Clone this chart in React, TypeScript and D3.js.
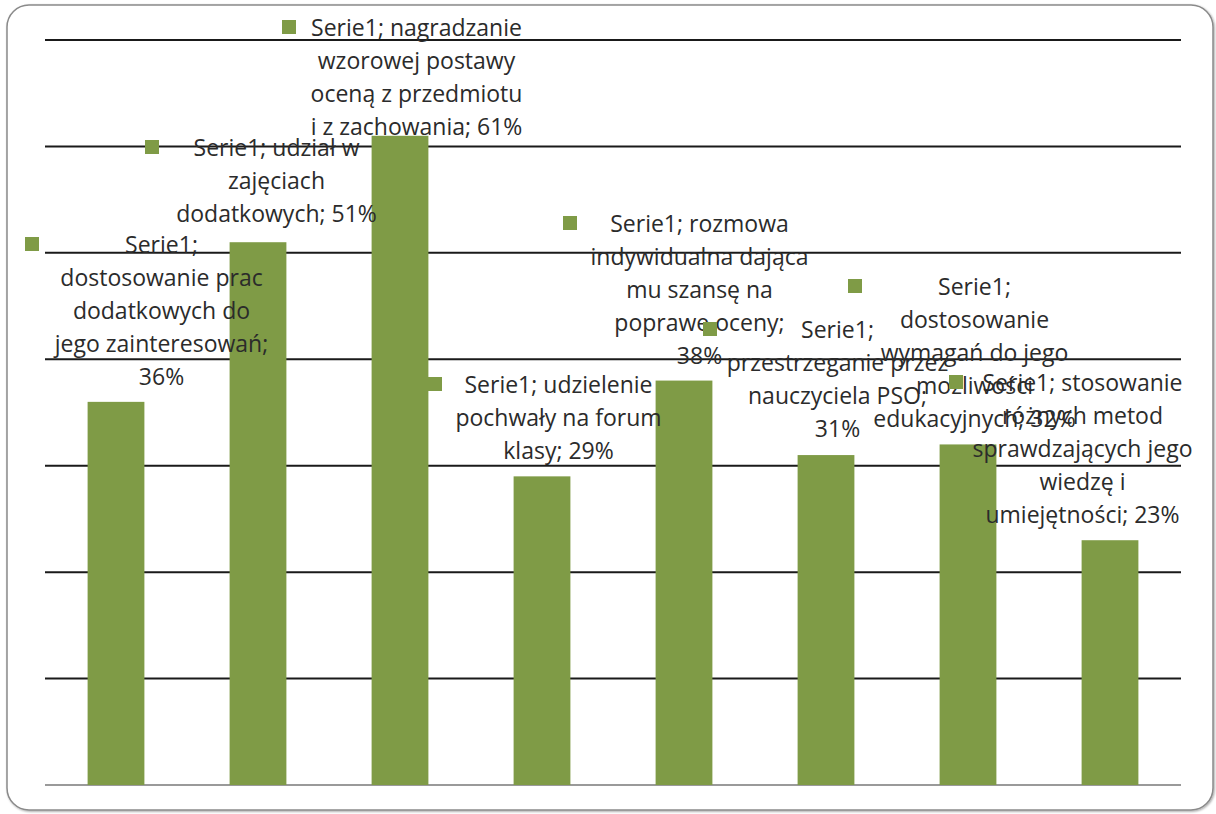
import React from "react";
import * as d3 from "d3";

const categories = [
  "dostosowanie prac dodatkowych do jego zainteresowań",
  "udział w zajęciach dodatkowych",
  "nagradzanie wzorowej postawy oceną z przedmiotu i z zachowania",
  "udzielenie pochwały na forum klasy",
  "rozmowa indywidualna dająca mu szansę na poprawe oceny",
  "przestrzeganie przez nauczyciela PSO",
  "dostosowanie wymagań do jego możliwości edukacyjnych",
  "stosowanie różnych metod sprawdzających jego wiedzę i umiejętności",
];
const values = [36, 51, 61, 29, 38, 31, 32, 23];
const seriesName = "Serie1";
const yTicks = [0, 10, 20, 30, 40, 50, 60, 70];

// wrapped label lines as they appear in the chart
const labelLines = [
  ["Serie1;", "dostosowanie prac", "dodatkowych do", "jego zainteresowań;", "36%"],
  ["Serie1; udział w", "zajęciach", "dodatkowych; 51%"],
  ["Serie1; nagradzanie", "wzorowej postawy", "oceną z przedmiotu", "i z zachowania; 61%"],
  ["Serie1; udzielenie", "pochwały na forum", "klasy; 29%"],
  ["Serie1; rozmowa", "indywidualna dająca", "mu szansę na", "poprawe oceny;", "38%"],
  ["Serie1;", "przestrzeganie przez", "nauczyciela PSO;", "31%"],
  ["Serie1;", "dostosowanie", "wymagań do jego", "możliwości", "edukacyjnych; 32%"],
  ["Serie1; stosowanie", "różnych metod", "sprawdzających jego", "wiedzę i", "umiejętności; 23%"],
];

// label layout: text center offset from bar center, first line center y, marker left offset from bar center
const labelLayout = [
  { dx: 45.5, y0: 245, mdx: -91 },
  { dx: 18.5, y0: 148, mdx: -113 },
  { dx: 16.5, y0: 28, mdx: -118 },
  { dx: 16.5, y0: 385, mdx: -114 },
  { dx: 15.5, y0: 224, mdx: -121 },
  { dx: 11.5, y0: 330, mdx: -123 },
  { dx: 6.5, y0: 287, mdx: -120 },
  { dx: -27.5, y0: 383, mdx: -161 },
];

const W = 1216;
const H = 814;
const margin = { left: 45, right: 35, top: 40, bottom: 29 };
const GREEN = "#7F9B46";
const LINE_H = 33;
const FONT = "'Open Sans', 'DejaVu Sans', sans-serif";

export default function App() {
  const x = d3
    .scaleBand<number>()
    .domain(d3.range(categories.length))
    .range([margin.left, W - margin.right])
    .paddingInner(0.6)
    .paddingOuter(0.3);
  const y = d3
    .scaleLinear()
    .domain([0, 70])
    .range([H - margin.bottom, margin.top]);

  return (
    <svg
      width={W}
      height={H}
      style={{ position: "absolute", left: 0, top: 0, background: "#fff" }}
    >
      <defs>
        <filter id="sh" x="-5%" y="-5%" width="110%" height="110%">
          <feDropShadow dx="1" dy="1" stdDeviation="1.2" floodColor="#000" floodOpacity="0.35" />
        </filter>
      </defs>
      <rect
        x={7}
        y={5}
        width={1206}
        height={805}
        rx={22}
        ry={22}
        fill="#fff"
        stroke="#8a8a8a"
        strokeWidth={1.5}
        filter="url(#sh)"
      />
      {yTicks.map((t) => (
        <line
          key={t}
          x1={margin.left}
          x2={W - margin.right}
          y1={y(t)}
          y2={y(t)}
          stroke={t === 0 ? "#9a9a9a" : "#1a1a1a"}
          strokeWidth={2}
        />
      ))}
      {values.map((v, i) => (
        <rect
          key={i}
          x={x(i)!}
          y={y(v)}
          width={x.bandwidth()}
          height={y(0) - y(v)}
          fill={GREEN}
        >
          <title>{`${seriesName}; ${categories[i]}; ${v}%`}</title>
        </rect>
      ))}
      {labelLines.map((lines, i) => {
        const cx = x(i)! + x.bandwidth() / 2;
        const L = labelLayout[i];
        return (
          <g key={i}>
            <rect x={cx + L.mdx} y={L.y0 - 8} width={14} height={14} fill={GREEN} />
            <text
              textAnchor="middle"
              fontFamily={FONT}
              fontSize={23}
              fill="#2b2b2b"
            >
              {lines.map((ln, j) => (
                <tspan key={j} x={cx + L.dx} y={L.y0 + j * LINE_H} dy="0.35em">
                  {ln}
                </tspan>
              ))}
            </text>
          </g>
        );
      })}
    </svg>
  );
}
